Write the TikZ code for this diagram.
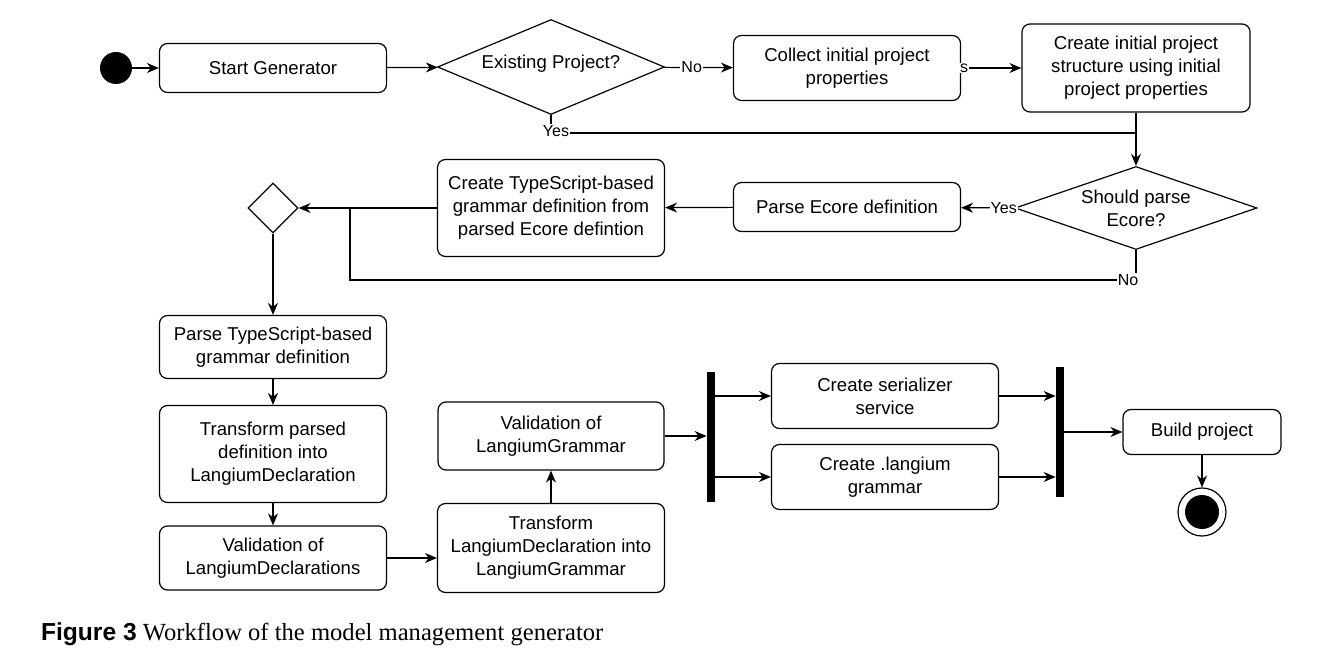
\documentclass[tikz,border=0pt]{standalone}
\usepackage{fontspec}
\setmainfont{Liberation Serif}
\newfontfamily\sfx{Liberation Sans}
\usetikzlibrary{shapes.geometric,arrows.meta}
\begin{document}
\begin{tikzpicture}[x=0.5pt,y=-0.5pt,
  font=\sfx\fontsize{9.3}{11.5}\selectfont,
  box/.style={draw,rounded corners=4pt,line width=0.6pt,align=center,inner sep=0pt},
  arr/.style={-{Stealth[length=6pt,width=5pt]},line width=0.6pt},
  ln/.style={line width=0.6pt},
  lab/.style={fill=white,inner sep=0.5pt,font=\sfx\fontsize{8}{9}\selectfont},
  bar/.style={fill=black,minimum width=4pt,inner sep=0pt}]
\useasboundingbox (0,0) rectangle (1331,662);
\node[fill=black,circle,minimum size=16pt,inner sep=0] (s) at (116,68) {};
\node[box,minimum width=113.5pt,minimum height=24.5pt] (sg) at (273,68) {Start Generator};
\node[draw,line width=0.6pt,minimum width=113.5pt,minimum height=47.5pt,shape=diamond,shape aspect=2.4,inner sep=0pt] (ep) at (551,67) {};
\node at (551,64) {Existing Project?};
\node[box,minimum width=113.5pt,minimum height=32.5pt] (ci) at (847,68) {Collect initial project\\properties};
\node[box,minimum width=114pt,minimum height=44pt] (cs) at (1136,68) {Create initial project\\structure using initial\\project properties};
\node[draw,line width=0.6pt,minimum width=121pt,minimum height=41.5pt,shape=diamond,shape aspect=2.9,inner sep=0pt] (sp) at (1136,208) {};
\node[align=center] at (1136,208) {Should parse\\Ecore?};
\node[box,minimum width=113.5pt,minimum height=24.5pt] (pe) at (847,207) {Parse Ecore definition};
\node[box,minimum width=113.5pt,minimum height=48.5pt] (ct) at (551,208) {Create TypeScript-based\\grammar definition from\\parsed Ecore defintion};
\node[draw,diamond,line width=0.6pt,minimum size=25pt,inner sep=0] (m) at (273,208) {};
\node[box,minimum width=113.5pt,minimum height=31.5pt] (pt) at (273,347) {Parse TypeScript-based\\grammar definition};
\node[box,minimum width=113.5pt,minimum height=48.5pt] (tp) at (273,454) {Transform parsed\\definition into\\LangiumDeclaration};
\node[box,minimum width=113.5pt,minimum height=32pt] (vd) at (273,558) {Validation of\\LangiumDeclarations};
\node[box,minimum width=113.5pt,minimum height=44.5pt] (tl) at (551,548) {Transform\\LangiumDeclaration into\\LangiumGrammar};
\node[box,minimum width=113pt,minimum height=34pt] (vg) at (551,436) {Validation of\\LangiumGrammar};
\node[bar,minimum height=65pt] (f) at (711,437) {};
\node[box,minimum width=113.5pt,minimum height=32.5pt] (cz) at (885,396) {Create serializer\\service};
\node[box,minimum width=113.5pt,minimum height=32.5pt] (cl) at (885,477) {Create .langium\\grammar};
\node[bar,minimum height=65pt] (j) at (1060,432) {};
\node[box,minimum width=79pt,minimum height=22.5pt] (bp) at (1202,432) {Build project};
\node[draw,circle,line width=0.6pt,minimum size=24pt,inner sep=0] (e) at (1202,512) {};
\node[fill=black,circle,minimum size=17pt,inner sep=0] at (e) {};
% connectors
\draw[arr] (s) -- (sg);
\draw[arr] (sg) -- (ep);
\draw[arr] (ep) -- node[lab,pos=0.4]{No} (ci);
\draw[arr] (ci) -- node[lab,pos=0.05]{s} (cs);
\coordinate (y1) at (551,133);
\coordinate (y2) at (1136,133);
\draw[ln] (ep.south) -- (y1) -- (y2);
\node[lab] at (556,131) {Yes};
\draw[arr] (cs.south) -- (sp.north);
\draw[arr] (sp.west) -- node[lab,pos=0.2]{Yes} (pe);
\draw[arr] (pe) -- (ct);
\draw[arr] (ct) -- (m);
\coordinate (n1) at (1136,280);
\coordinate (n2) at (350,280);
\coordinate (n3) at (350,208);
\draw[ln] (sp.south) -- (n1) -- (n2) -- (n3);
\node[lab] at (1128,280) {No};
\draw[arr] (m) -- (pt);
\draw[arr] (pt) -- (tp);
\draw[arr] (tp) -- (vd);
\draw[arr] (vd) -- (vd -| tl.west);
\draw[arr] (tl) -- (vg);
\draw[arr] (vg) -- (vg -| f.west);
\draw[arr] (cz -| f.east) -- (cz);
\draw[arr] (cl -| f.east) -- (cl);
\draw[arr] (cz) -- (cz -| j.west);
\draw[arr] (cl) -- (cl -| j.west);
\draw[arr] (j) -- (bp);
\draw[arr] (bp) -- (e);
\node[anchor=west,font=\fontsize{12.3}{14}\selectfont] (cap) at (34,634) {{\sfx\bfseries Figure 3} Workflow of the model management generator};
\end{tikzpicture}
\end{document}
